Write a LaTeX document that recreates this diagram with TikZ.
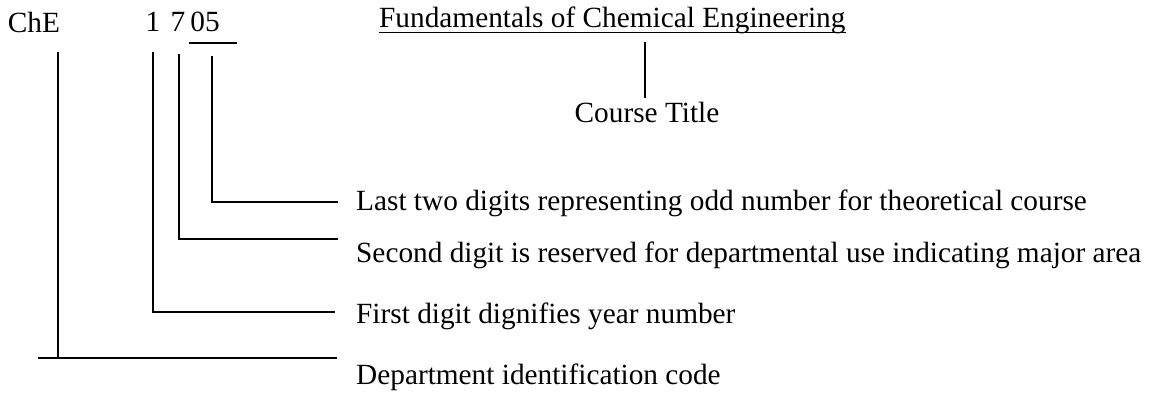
\documentclass[tikz,border=0pt]{standalone}
\usepackage{fontspec}
\setmainfont{Liberation Serif}
\usepackage{tikz}

\tikzset{
  lbl/.style={inner sep=0pt,font=\fontsize{29.3}{34}\selectfont},
  lead/.style={line width=1.3pt},
}

\begin{document}
\begin{tikzpicture}[x=1pt,y=-1pt]
  \useasboundingbox (0,0) rectangle (1150,398);
  % course code
  \node[lbl,anchor=base] (che) at (34,33) {ChE};
  \node[lbl,anchor=base] (d1) at (153,32) {1};
  \node[lbl,anchor=base] (d7) at (178,32) {7};
  \node[lbl,anchor=base] (d05) at (205,32) {05};
  \node[lbl,anchor=base west] (title) at (379,28) {Fundamentals of Chemical Engineering};
  \node[lbl,anchor=base] (ctitle) at (647,123) {Course Title};
  % explanations
  \node[lbl,anchor=base west] (last) at (356,210) {Last two digits representing odd number for theoretical course};
  \node[lbl,anchor=base west] (second) at (356,262) {Second digit is reserved for departmental use indicating major area};
  \node[lbl,anchor=base west] (first) at (356,323) {First digit dignifies year number};
  \node[lbl,anchor=base west] (dept) at (356,384) {Department identification code};
  % underlines
  \coordinate (u1) at (189,43);
  \coordinate (u2) at (237,43);
  \draw[lead] (u1) -- (u2);
  \draw[line width=1pt] (title.west |- 0,33) -- (title.east |- 0,33);
  % title leader
  \coordinate (ct) at (645,42);
  \draw[lead] (ct) -- (ct |- 0,98);
  % leaders to explanations
  \coordinate (e05) at (338,202);
  \coordinate (e7) at (338,239);
  \coordinate (e1) at (335,312);
  \coordinate (eche) at (337,358);
  \draw[lead] (212,56) |- (e05);
  \draw[lead] (179,54) |- (e7);
  \draw[lead] (153,52) |- (e1);
  \draw[lead] (58,52) -- (58,358);
  \draw[lead] (38,358) -- (eche);
\end{tikzpicture}
\end{document}
